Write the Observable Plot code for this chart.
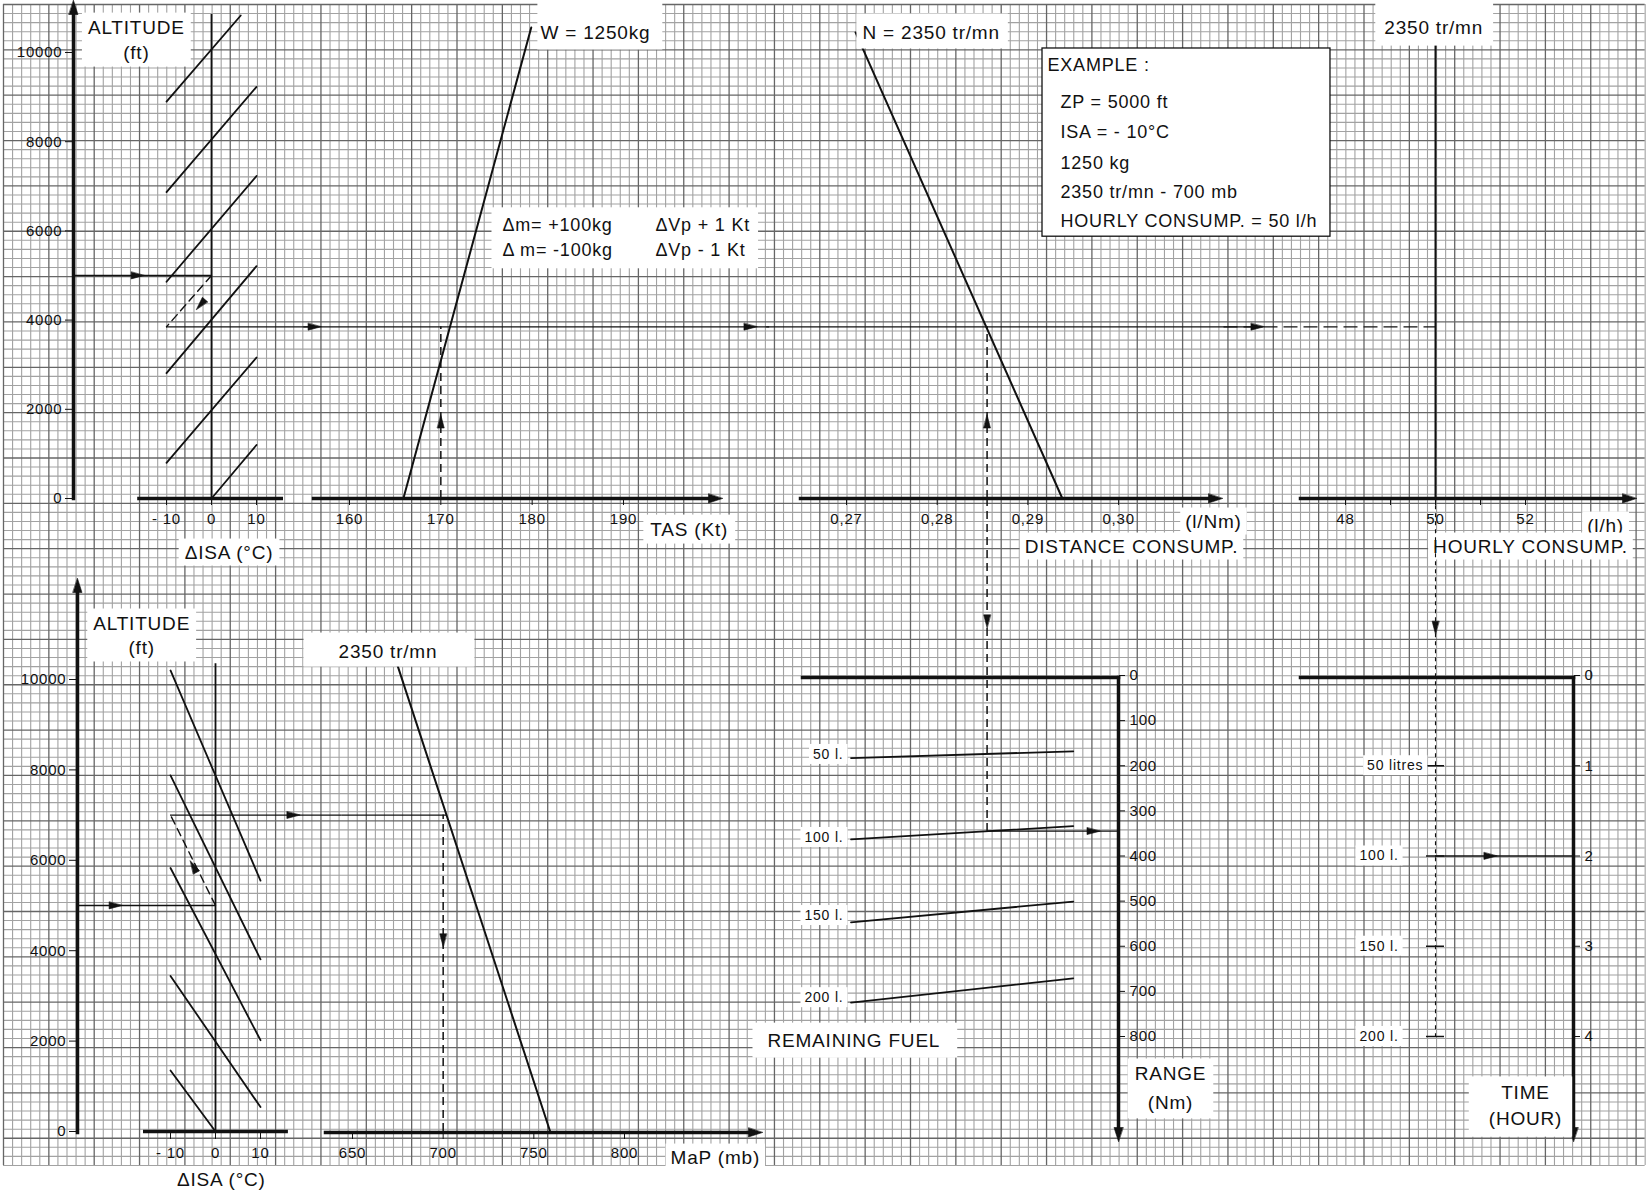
<!DOCTYPE html>
<html><head><meta charset="utf-8">
<script src="https://cdn.jsdelivr.net/npm/d3@7"></script>
<script src="https://cdn.jsdelivr.net/npm/@observablehq/plot@0.6"></script>
<style>
html,body{margin:0;padding:0;background:#fff;}
#chart{position:relative;width:1650px;height:1195px;overflow:hidden;background:#fff;}
#chart svg{position:absolute;left:0;top:0;}
</style></head>
<body><div id="chart"></div>
<script>
// ---------------- DATA ----------------
const altTicks = [0, 2000, 4000, 6000, 8000, 10000];
const isaTicks = [-10, 0, 10];
const tasTicks = [160, 170, 180, 190];
const consTicks = [0.27, 0.28, 0.29, 0.30];
const hourlyTicks = [48, 49, 50, 51, 52];
const mapTicks = [650, 700, 750, 800];
const rangeTicks = [0, 100, 200, 300, 400, 500, 600, 700, 800];
const timeTicks = [0, 1, 2, 3, 4];

// cruise chart: ΔISA correction lines (altitude vs ΔISA)
const isaCruise = [
  {line: "a", isa: -10, alt: 8900}, {line: "a", isa: 6.5, alt: 10830},
  {line: "b", isa: -10, alt: 6870}, {line: "b", isa: 10, alt: 9230},
  {line: "c", isa: -10, alt: 4860}, {line: "c", isa: 10, alt: 7230},
  {line: "d", isa: -10, alt: 2810}, {line: "d", isa: 10, alt: 5210},
  {line: "e", isa: -10, alt: 800},  {line: "e", isa: 10, alt: 3160},
  {line: "f", isa: 0, alt: 0},      {line: "f", isa: 10, alt: 1200}
];
const tasLine = [{tas: 165.9, alt: 0}, {tas: 179.9, alt: 10560}];
const consLine = [{cons: 0.2938, alt: 0}, {cons: 0.2710, alt: 10450}];
const hourlyLine = [{lph: 50, alt: 0}, {lph: 50, alt: 10200}];

// power chart: ΔISA correction lines and manifold pressure
const isaPower = [
  {line: "a", isa: -10, alt: 10200}, {line: "a", isa: 10, alt: 5550},
  {line: "b", isa: -10, alt: 7880},  {line: "b", isa: 10, alt: 3810},
  {line: "c", isa: -10, alt: 5830},  {line: "c", isa: 10, alt: 2020},
  {line: "d", isa: -10, alt: 3440},  {line: "d", isa: 10, alt: 540},
  {line: "e", isa: -10, alt: 1350},  {line: "e", isa: 0, alt: 0}
];
const mapLine = [{map: 759, alt: 0}, {map: 675, alt: 10290}];

// remaining fuel lines: range vs distance consumption
const fuelLines = [
  {fuel: 50, cons: 0.2705, range: 183},  {fuel: 50, cons: 0.295, range: 168},
  {fuel: 100, cons: 0.2705, range: 363}, {fuel: 100, cons: 0.295, range: 334},
  {fuel: 150, cons: 0.2705, range: 547}, {fuel: 150, cons: 0.295, range: 501},
  {fuel: 200, cons: 0.2705, range: 725}, {fuel: 200, cons: 0.295, range: 671}
];
const fuelRangeLabels = ["50 l.", "100 l.", "150 l.", "200 l."];
const fuelTimes = [{label: "50 litres", time: 1}, {label: "100 l.", time: 2}, {label: "150 l.", time: 3}, {label: "200 l.", time: 4}];

// worked example
const exZp = 5000, exIsa = -10, exDensAlt = 3850, exTas = 170, exCons = 0.2855, exLph = 50;
const exMapAlt = 7000, exMap = 700, exRange = 345, exTime = 2;
const exampleLines = ["ZP = 5000 ft", "ISA = - 10°C", "1250 kg", "2350 tr/mn - 700 mb", "HOURLY CONSUMP. = 50 l/h"];
const massLines = [["Δm= +100kg", "ΔVp + 1 Kt"], ["Δ m= -100kg", "ΔVp - 1 Kt"]];

// ---------------- helpers ----------------
const W = 1650, H = 1195;
const FONT = "'Liberation Sans', Arial, Helvetica, sans-serif";
const INK = "#111";
const chart = document.getElementById("chart");

function base(opts) {
  const {x, y, ...rest} = opts;
  return Plot.plot({
    width: W, height: H,
    style: {background: "transparent", fontFamily: FONT, fontSize: "15px", overflow: "visible", color: INK, letterSpacing: "0.8px"},
    ...rest,
    x: {label: null, ...x},
    y: {label: null, ...y}
  });
}
const head = {draw(c, l, r) { c.moveTo(0, -l); c.lineTo(r, 0); c.lineTo(-r, 0); c.closePath(); }};
const heads = (data, o) => Plot.vector(data, {shape: head, length: 13, r: 3.4, fill: INK, stroke: INK, strokeWidth: 0.6, rotate: "rot", ...o});
const axisHead = (frameAnchor, rotate) => Plot.vector([0], {frameAnchor, rotate, anchor: "start", shape: head, length: 14, r: 4.5, fill: INK, stroke: INK, strokeWidth: 0.6});
const label = (text, o) => Plot.text([text], {fontSize: 19, fill: INK, ...o});
const isaFmt = d => d < 0 ? "- " + Math.abs(d) : String(d);
const DASH = "8,5";

function addBoxes(svg) {
  const NS = "http://www.w3.org/2000/svg";
  svg.querySelectorAll("g[aria-description]").forEach(g => {
    const parts = g.getAttribute("aria-description").split(" ");
    const kind = parts[0];
    const [l, r, t, b] = parts.slice(1).map(Number);
    const mk = (bb, tr) => {
      const rect = document.createElementNS(NS, "rect");
      rect.setAttribute("x", bb.x - l); rect.setAttribute("y", bb.y - t);
      rect.setAttribute("width", bb.width + l + r); rect.setAttribute("height", bb.height + t + b);
      rect.setAttribute("fill", "#fff"); rect.setAttribute("stroke", "none");
      if (tr) rect.setAttribute("transform", tr);
      return rect;
    };
    if (kind === "box") {
      g.querySelectorAll("text").forEach(tx => tx.parentNode.insertBefore(mk(tx.getBBox(), tx.getAttribute("transform")), tx));
    } else if (kind === "boxall") {
      g.insertBefore(mk(g.getBBox(), null), g.firstChild);
    }
  });
}
function add(svg) { chart.appendChild(svg); addBoxes(svg); }

// ---------------- graph paper ----------------
const mmX = d3.range(0, 182), mmY = d3.range(0, 129);
add(Plot.plot({
  width: W, height: H, margin: 0,
  style: {background: "transparent"},
  x: {domain: [0, 181], range: [3, 3 + 181 * 9.07], axis: null},
  y: {domain: [0, 128], range: [4, 4 + 128 * 9.07], axis: null},
  marks: [
    Plot.ruleX(mmX.filter(i => i % 5), {y1: 0, y2: 128, stroke: "#a2a2a2", strokeWidth: 1.1}),
    Plot.ruleY(mmY.filter(i => i % 5), {x1: 0, x2: 181, stroke: "#a2a2a2", strokeWidth: 1.1}),
    Plot.ruleX(mmX.filter(i => i % 5 === 0), {y1: 0, y2: 128, stroke: "#666", strokeWidth: 1.3}),
    Plot.ruleY(mmY.filter(i => i % 5 === 0), {x1: 0, x2: 181, stroke: "#666", strokeWidth: 1.3})
  ]
}));

// ---------------- P1: ΔISA (cruise) ----------------
add(base({
  marginLeft: 73, marginTop: 14, marginBottom: 697, marginRight: 1439,
  x: {domain: [-10, 10], range: [166, 256]},
  y: {domain: [0, 10000], range: [498, 52]},
  marks: [
    Plot.frame({anchor: "left", strokeWidth: 3.5, stroke: INK}),
    axisHead("top-left", 0),
    Plot.axisY({anchor: "left", ticks: altTicks, tickSize: 8, tickPadding: 3, tickFormat: d => String(d), label: null}),
    Plot.ruleY([0], {x1: -16.4, x2: 16, strokeWidth: 3.5, stroke: INK}),
    Plot.axisX({anchor: "bottom", ticks: isaTicks, tickSize: 7, tickPadding: 8, tickFormat: isaFmt, label: null}),
    Plot.ruleX([0], {y1: 0, y2: 10850, strokeWidth: 1.8, stroke: INK}),
    Plot.line(isaCruise, {x: "isa", y: "alt", z: "line", strokeWidth: 1.8, stroke: INK}),
    Plot.ruleY([exZp], {strokeWidth: 1.3, stroke: INK}),
    Plot.line([{isa: 0, alt: exZp}, {isa: exIsa, alt: exDensAlt}], {x: "isa", y: "alt", strokeWidth: 1.4, strokeDasharray: DASH, stroke: INK}),
    Plot.ruleY([exDensAlt], {x1: exIsa, x2: 22, strokeWidth: 1.3, stroke: INK}),
    heads([{isa: -16.4, alt: exZp, rot: 90}, {isa: -2.4, alt: 4350, rot: 221}, {isa: 22.9, alt: exDensAlt, rot: 90}], {x: "isa", y: "alt"}),
    Plot.text(["ALTITUDE", "(ft)"], {x: -16.7, y: (d, i) => i ? 10000 : 10560, fontSize: 19, fill: INK, ariaDescription: "boxall 6 6 4 4"}),
    label("ΔISA (°C)", {x: 3.9, y: -1210, ariaDescription: "box 6 6 3 3"})
  ]
}));

// ---------------- P2: TAS ----------------
add(base({
  marginLeft: 313, marginRight: 942, marginBottom: 697, marginTop: 0,
  x: {domain: [160, 190], range: [349, 623]},
  y: {domain: [0, 10000], range: [498, 52], axis: null},
  marks: [
    Plot.frame({anchor: "bottom", strokeWidth: 3.5, stroke: INK}),
    axisHead("bottom-right", 90),
    Plot.axisX({anchor: "bottom", ticks: tasTicks, tickSize: 7, tickPadding: 8, tickFormat: d => String(d), label: null}),
    Plot.line(tasLine, {x: "tas", y: "alt", strokeWidth: 2, stroke: INK}),
    Plot.ruleY([exDensAlt], {x1: 155, x2: 206, strokeWidth: 1.3, stroke: INK}),
    Plot.ruleX([exTas], {y1: 0, y2: exDensAlt, strokeWidth: 1.5, strokeDasharray: DASH, stroke: INK}),
    heads([{tas: exTas, alt: 1726, rot: 0}, {tas: 203.9, alt: exDensAlt, rot: 90}], {x: "tas", y: "alt"}),
    label("W = 1250kg", {x: 180.9, y: 10450, textAnchor: "start", ariaDescription: "box 3 12 30 7"}),
    Plot.text(massLines.flatMap((row, i) => row.map((t, j) => ({t, i, j}))), {
      x: d => d.j ? 193.5 : 176.75, y: d => d.i ? 5560 : 6120, text: "t", textAnchor: "start",
      fontSize: 18, fill: INK, ariaDescription: "boxall 11 8 8 8"}),
    label("TAS (Kt)", {x: 197.2, y: -695, ariaDescription: "box 7 7 4 4"})
  ]
}));

// ---------------- P3: distance consumption ----------------
add(base({
  marginLeft: 800, marginRight: 442, marginBottom: 697, marginTop: 0,
  x: {domain: [0.27, 0.30], range: [846, 1118.1]},
  y: {domain: [0, 10000], range: [498, 52], axis: null},
  marks: [
    Plot.frame({anchor: "bottom", strokeWidth: 3.5, stroke: INK}),
    axisHead("bottom-right", 90),
    Plot.axisX({anchor: "bottom", ticks: consTicks, tickSize: 7, tickPadding: 8, tickFormat: d => d.toFixed(2).replace(".", ","), label: null}),
    Plot.line(consLine, {x: "cons", y: "alt", strokeWidth: 2, stroke: INK}),
    Plot.ruleY([exDensAlt], {x1: 0.2612, x2: 0.3160, strokeWidth: 1.3, stroke: INK}),
    Plot.ruleX([exCons], {y1: 0, y2: exDensAlt, strokeWidth: 1.5, strokeDasharray: DASH, stroke: INK}),
    heads([{cons: exCons, alt: 1726, rot: 0}, {cons: 0.31531, alt: exDensAlt, rot: 90}], {x: "cons", y: "alt"}),
    label("N = 2350 tr/mn", {x: 0.27176, y: 10450, textAnchor: "start", ariaDescription: "box 6 8 8 6"}),
    Plot.rect([0], {x1: 0.29161, x2: 0.32336, y1: 5870, y2: 10090, fill: "#fff", stroke: INK, strokeWidth: 1.3}),
    label("EXAMPLE :", {x: 0.29216, y: 9710, textAnchor: "start", fontSize: 18}),
    Plot.text(exampleLines, {x: 0.29359, y: (d, i) => [8880, 8215, 7510, 6870, 6210][i], textAnchor: "start", fontSize: 18, fill: INK}),
    label("(l/Nm)", {x: 0.31046, y: -515, ariaDescription: "box 5 5 3 3"}),
    label("DISTANCE CONSUMP.", {x: 0.30142, y: -1075, ariaDescription: "box 5 5 3 3"})
  ]
}));

// ---------------- P4: hourly consumption ----------------
add(base({
  marginLeft: 1300, marginRight: 28, marginBottom: 697, marginTop: 0,
  x: {domain: [48, 52], range: [1345, 1525]},
  y: {domain: [0, 10000], range: [498, 52], axis: null},
  marks: [
    Plot.frame({anchor: "bottom", strokeWidth: 3.5, stroke: INK}),
    axisHead("bottom-right", 90),
    Plot.axisX({anchor: "bottom", ticks: hourlyTicks, tickSize: 7, tickPadding: 8, tickFormat: d => d % 2 ? "" : String(d), label: null}),
    Plot.line(hourlyLine, {x: "lph", y: "alt", strokeWidth: 2, stroke: INK}),
    Plot.ruleY([exDensAlt], {x1: 45.3, x2: exLph, strokeWidth: 1.3, strokeDasharray: "14,6", stroke: INK}),
    label("2350 tr/mn", {x: 49.96, y: 10560, ariaDescription: "box 9 10 20 8"}),
    label("(l/h)", {x: 53.78, y: -605, ariaDescription: "box 5 5 3 3"}),
    label("HOURLY CONSUMP.", {x: 52.11, y: -1075, ariaDescription: "box 5 5 3 3"})
  ]
}));

// ---------------- P5: ΔISA (power) ----------------
add(base({
  marginLeft: 77, marginTop: 592, marginBottom: 63, marginRight: 1435,
  x: {domain: [-10, 10], range: [170, 260]},
  y: {domain: [0, 10000], range: [1131, 679]},
  marks: [
    Plot.frame({anchor: "left", strokeWidth: 3.5, stroke: INK}),
    axisHead("top-left", 0),
    Plot.axisY({anchor: "left", ticks: altTicks, tickSize: 8, tickPadding: 3, tickFormat: d => String(d), label: null}),
    Plot.ruleY([0], {x1: -16, x2: 16.2, strokeWidth: 3.5, stroke: INK}),
    Plot.axisX({anchor: "bottom", ticks: isaTicks, tickSize: 7, tickPadding: 8, tickFormat: isaFmt, label: null}),
    Plot.ruleX([0], {y1: 0, y2: 10350, strokeWidth: 1.8, stroke: INK}),
    Plot.line(isaPower, {x: "isa", y: "alt", z: "line", strokeWidth: 1.8, stroke: INK}),
    Plot.ruleY([exZp], {strokeWidth: 1.3, stroke: INK}),
    Plot.line([{isa: 0, alt: exZp}, {isa: exIsa, alt: exMapAlt}], {x: "isa", y: "alt", strokeWidth: 1.4, strokeDasharray: DASH, stroke: INK}),
    Plot.ruleY([exMapAlt], {x1: exIsa, x2: 28, strokeWidth: 1.3, stroke: INK}),
    heads([{isa: -22.2, alt: exZp, rot: 90}, {isa: -4.9, alt: 5860, rot: 332}, {isa: 17.3, alt: exMapAlt, rot: 90}], {x: "isa", y: "alt"}),
    Plot.text(["ALTITUDE", "(ft)"], {x: -16.4, y: (d, i) => i ? 10710 : 11240, fontSize: 19, fill: INK, ariaDescription: "boxall 6 6 4 4"}),
    label("ΔISA (°C)", {x: 1.3, y: -1060})
  ]
}));

// ---------------- P6: manifold pressure ----------------
add(base({
  marginLeft: 325, marginRight: 902, marginBottom: 63, marginTop: 592,
  x: {domain: [650, 800], range: [352, 624]},
  y: {domain: [0, 10000], range: [1131, 679], axis: null},
  marks: [
    Plot.frame({anchor: "bottom", strokeWidth: 3.5, stroke: INK}),
    axisHead("bottom-right", 90),
    Plot.axisX({anchor: "bottom", ticks: mapTicks, tickSize: 7, tickPadding: 8, tickFormat: d => String(d), label: null}),
    Plot.line(mapLine, {x: "map", y: "alt", strokeWidth: 2, stroke: INK}),
    Plot.ruleY([exMapAlt], {x1: 644, x2: 701.9, strokeWidth: 1.3, stroke: INK}),
    Plot.ruleX([exMap], {y1: 0, y2: exMapAlt, strokeWidth: 1.5, strokeDasharray: DASH, stroke: INK}),
    heads([{map: exMap, alt: 4230, rot: 180}], {x: "map", y: "alt"}),
    label("2350 tr/mn", {x: 642.3, y: 10620, textAnchor: "start", ariaDescription: "box 35 37 8 5"}),
    label("MaP (mb)", {x: 825.4, y: -575, textAnchor: "start", ariaDescription: "box 5 5 3 3"})
  ]
}));

// ---------------- P7: range vs remaining fuel ----------------
add(base({
  marginLeft: 802, marginRight: 532, marginTop: 677, marginBottom: 68,
  x: {domain: [0.27, 0.30], range: [846, 1118.1], axis: null},
  y: {domain: [0, 800], range: [675, 1036]},
  marks: [
    Plot.frame({anchor: "top", strokeWidth: 3.5, stroke: INK}),
    Plot.frame({anchor: "right", strokeWidth: 3.5, stroke: INK}),
    axisHead("bottom-right", 180),
    Plot.axisY({anchor: "right", ticks: rangeTicks, tickSize: 6, tickPadding: 5, tickFormat: d => String(d), label: null}),
    Plot.line(fuelLines, {x: "cons", y: "range", z: "fuel", strokeWidth: 1.8, stroke: INK}),
    Plot.text(fuelRangeLabels, {x: 0.26967, y: (d, i) => [175, 359, 532, 714][i], textAnchor: "end", fontSize: 14, fill: INK, ariaDescription: "box 4 4 2 2"}),
    Plot.ruleX([exCons], {y1: -392, y2: exRange, strokeWidth: 1.5, strokeDasharray: DASH, stroke: INK}),
    Plot.ruleY([exRange], {x1: exCons, x2: 0.30, strokeWidth: 1.3, stroke: INK}),
    heads([{cons: exCons, range: -120, rot: 180}, {cons: 0.29723, range: exRange, rot: 90}], {x: "cons", y: "range"}),
    label("REMAINING FUEL", {x: 0.26129, y: 809, textAnchor: "start", ariaDescription: "box 15 17 7 7"}),
    Plot.text(["RANGE", "(Nm)"], {x: 0.30572, y: (d, i) => i ? 948 : 884, fontSize: 19, fill: INK, ariaDescription: "boxall 7 7 5 5"})
  ]
}));

// ---------------- P8: endurance ----------------
add(base({
  marginLeft: 1300, marginRight: 77, marginTop: 677, marginBottom: 68,
  x: {domain: [48, 52], range: [1345, 1525], axis: null},
  y: {domain: [0, 4], range: [675, 1036]},
  marks: [
    Plot.frame({anchor: "top", strokeWidth: 3.5, stroke: INK}),
    Plot.frame({anchor: "right", strokeWidth: 3.5, stroke: INK}),
    axisHead("bottom-right", 180),
    Plot.axisY({anchor: "right", ticks: timeTicks, tickSize: 6, tickPadding: 5, tickFormat: d => String(d), label: null}),
    Plot.ruleX([exLph], {y1: -1.97, y2: 4, strokeWidth: 1.1, strokeDasharray: "4,4", stroke: INK}),
    Plot.ruleY(fuelTimes, {y: "time", x1: 49.8, x2: 50.2, strokeWidth: 1.5, stroke: INK}),
    Plot.text(fuelTimes, {x: d => d.time === 1 ? 49.73 : 49.18, y: "time", text: "label", textAnchor: "end", fontSize: 14, fill: INK, ariaDescription: "box 4 4 2 2"}),
    Plot.ruleY([exTime], {x1: exLph, x2: 53.07, strokeWidth: 1.3, stroke: INK}),
    heads([{lph: exLph, time: -0.53, rot: 180}, {lph: 51.22, time: exTime, rot: 90}], {x: "lph", y: "time"}),
    Plot.text(["TIME", "(HOUR)"], {x: 52.0, y: (d, i) => i ? 4.91 : 4.63, fontSize: 19, fill: INK, ariaDescription: "boxall 20 10 6 8"})
  ]
}));
</script>
</body></html>
